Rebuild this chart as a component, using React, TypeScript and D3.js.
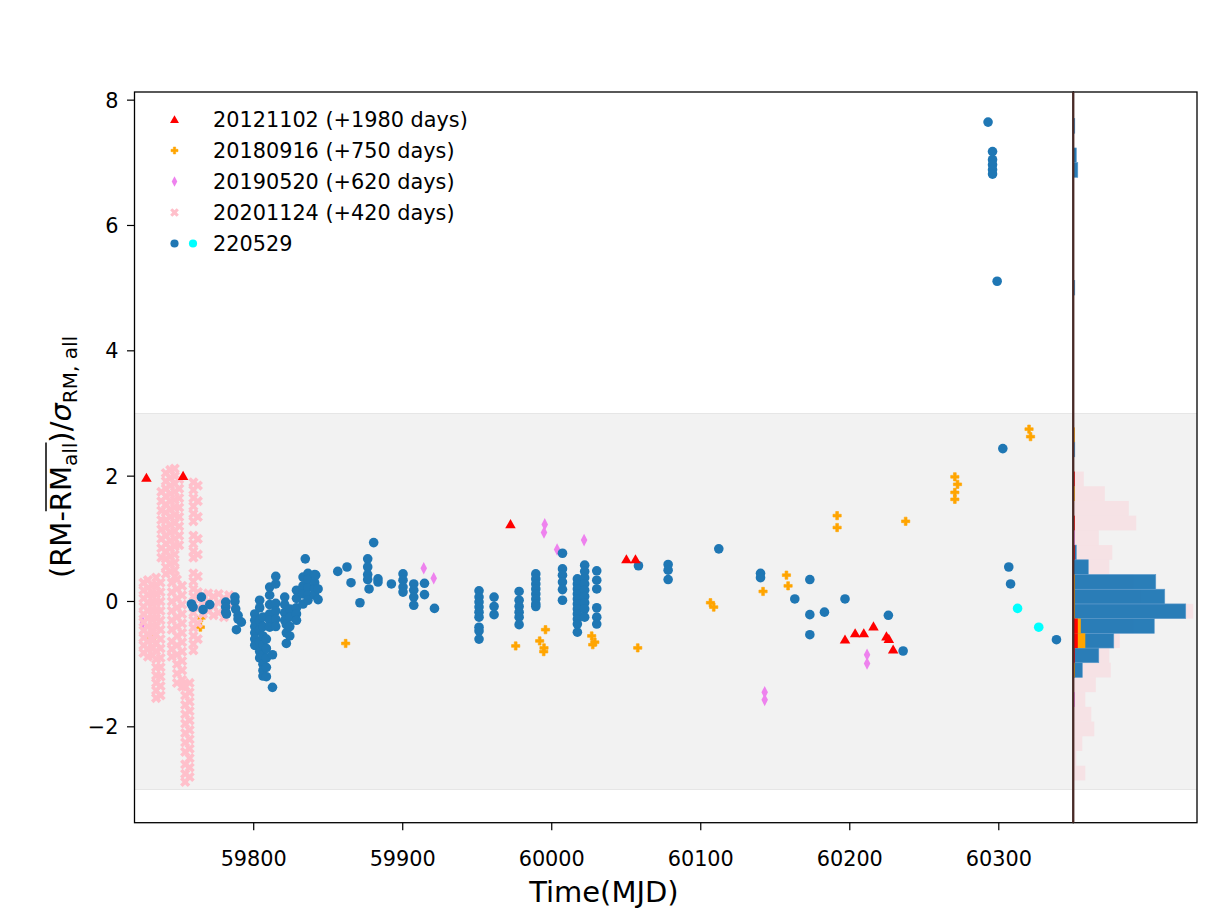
import React, { useLayoutEffect, useRef, useState } from 'react';
import * as d3 from 'd3';

// ---- scatter data: [MJD, values observed at that MJD] ----
const frb20121102: [number, number[]][] = [
  [59728.0, [1.97]], [59752.6, [2.0]], [59972.3, [1.23]], [60050.1, [0.67]], [60056.2, [0.67]],
  [60196.8, [-0.61]], [60203.6, [-0.51]], [60209.4, [-0.51]], [60215.9, [-0.4]],
  [60224.6, [-0.56]], [60226.2, [-0.6]], [60229.1, [-0.77]],
];

const frb20180916: [number, number[]][] = [
  [59731.7, [-0.58]], [59764.9, [-0.26]], [59764.2, [-0.41]], [59861.7, [-0.67]],
  [59975.8, [-0.71]], [59995.8, [-0.45]], [59991.9, [-0.63]], [59994.8, [-0.74]], [59994.6, [-0.8]],
  [60026.8, [-0.55]], [60028.9, [-0.65]], [60027.5, [-0.69]], [60057.7, [-0.74]],
  [60106.5, [-0.02]], [60108.7, [-0.09]], [60141.8, [0.16]], [60157.5, [0.42]], [60158.6, [0.25]],
  [60191.5, [1.37, 1.18]], [60237.5, [1.28]], [60270.5, [1.99, 1.74, 1.63]], [60272.3, [1.87]],
  [60320.3, [2.75]], [60321.3, [2.63]],
];

const frb20190520: [number, number[]][] = [
  [59725.7, [-0.34]], [59914.1, [0.53]], [59920.8, [0.37]], [59995.3, [1.23]], [59994.8, [1.1]],
  [60003.6, [0.83]], [60021.7, [0.98]], [60142.9, [-1.45, -1.57]], [60211.6, [-0.85, -0.99]],
];

const frb20201124: [number, number[]][] = [
  [59726.0, [0.3, 0.18, 0.05, -0.08, -0.2, -0.33, -0.46, -0.58, -0.7, -0.82]],
  [59729.0, [0.34, 0.22, 0.1, -0.02, -0.15, -0.27, -0.4, -0.52, -0.64, -0.76, -0.88]],
  [59732.0, [0.26, 0.12, -0.01, -0.13, -0.26, -0.38, -0.5, -0.62, -0.75, -0.86]],
  [59734.5, [0.38, 0.25, 0.12, -0.01, -0.14, -0.27, -0.4, -0.53, -0.66, -0.79, -0.92, -1.05, -1.18, -1.3, -1.42, -1.54]],
  [59737.5, [0.3, 0.15, 0.0, -0.15, -0.3, -0.45, -0.6, -0.75, -0.9, -1.05, -1.2, -1.35, -1.5]],
  [59738.0, [1.75, 1.6, 1.45, 1.3, 1.15, 1.0, 0.85, 0.7]],
  [59741.0, [2.05, 1.92, 1.8, 1.68, 1.55, 1.42, 1.3, 1.18, 1.05, 0.92, 0.8, 0.68, 0.55, 0.44]],
  [59744.0, [2.1, 1.97, 1.85, 1.72, 1.6, 1.47, 1.35, 1.22, 1.1, 0.97, 0.85, 0.72, 0.6, 0.48]],
  [59747.0, [2.12, 2.0, 1.88, 1.75, 1.62, 1.5, 1.38, 1.25, 1.12, 1.0, 0.88, 0.75, 0.62, 0.5, 0.4]],
  [59750.0, [1.95, 1.8, 1.65, 1.5, 1.35, 1.2, 1.05, 0.9]],
  [59745.0, [0.3, 0.15, 0.0, -0.15, -0.3, -0.45, -0.64, -0.76, -0.88]],
  [59748.5, [0.35, 0.2, 0.05, -0.1, -0.25, -0.4, -0.55, -0.7, -0.85, -1.0, -1.15, -1.3]],
  [59752.0, [0.25, 0.1, -0.05, -0.2, -0.35, -0.5, -0.65, -0.8, -0.95, -1.1, -1.25, -1.36]],
  [59754.0, [-1.35, -1.5, -1.65, -1.8, -1.95, -2.1, -2.25, -2.4, -2.6, -2.75, -2.88]],
  [59757.0, [-1.3, -1.45, -1.6, -1.75, -1.9, -2.05, -2.2, -2.35, -2.5, -2.65, -2.8]],
  [59759.5, [1.9, 1.78, 1.65, 1.52, 1.4, 1.28, 1.05, 0.92, 0.8, 0.7, 0.45, 0.32, 0.2, 0.08, -0.05, -0.18, -0.3, -0.42, -0.55, -0.68, -0.78]],
  [59762.5, [1.85, 1.6, 1.35, 1.0, 0.75, 0.4, 0.15, -0.1, -0.35, -0.6]],
  [59766.0, [0.1, -0.05, -0.2]],
  [59769.5, [0.13, 0.0, -0.15]],
  [59773.0, [0.08, -0.08, -0.22]],
  [59776.5, [0.12, -0.02, -0.18]],
  [59780.0, [0.05, -0.1, -0.25]],
  [59783.5, [0.1, -0.05]],
];

const frb220529: [number, number[]][] = [
  [59758.2, [-0.04]], [59759.3, [-0.09]], [59764.9, [0.07]], [59766.0, [-0.13]], [59770.5, [-0.05]],
  [59781.2, [-0.01, -0.09, -0.17]], [59781.7, [-0.2]],
  [59787.4, [0.07, 0.0]], [59787.9, [-0.12]], [59789.5, [-0.22, -0.28]], [59791.7, [-0.33]], [59788.4, [-0.45]],
  [59800.7, [-0.2, -0.3, -0.4, -0.5, -0.6, -0.7]],
  [59804.0, [0.02, -0.1, -0.3, -0.45, -0.65, -0.8, -0.9]],
  [59806.2, [-0.25, -0.4, -0.55, -0.7, -0.85, -1.0, -1.1, -1.19]],
  [59808.5, [-0.6, -0.75, -0.9, -1.05, -1.2]],
  [59812.6, [-0.85, -1.37]],
  [59810.7, [0.23, 0.1, -0.05, -0.2, -0.3, -0.41]],
  [59814.8, [0.4, 0.28, -0.03, -0.15, -0.28, -0.4]],
  [59820.8, [0.07, -0.05, -0.18, -0.3]],
  [59821.9, [-0.37, -0.5, -0.67]],
  [59824.2, [-0.12, -0.25, -0.4, -0.55]],
  [59828.7, [0.18, 0.05, -0.1, -0.2, -0.3]],
  [59833.1, [0.39, 0.25, 0.12, -0.04]],
  [59834.6, [0.68]],
  [59836.4, [0.45, 0.35, 0.22, 0.1, 0.02]],
  [59840.9, [0.43, 0.3, 0.2, 0.1]],
  [59843.2, [0.2, 0.03]],
  [59841.6, [0.42]],
  [59856.4, [0.48]], [59862.6, [0.55]], [59865.3, [0.3]], [59871.3, [-0.02]], [59880.5, [0.94]],
  [59876.5, [0.68, 0.55, 0.43, 0.35]], [59877.4, [0.2]], [59883.4, [0.36, 0.31]], [59892.4, [0.28]],
  [59900.2, [0.44, 0.34, 0.23, 0.15]], [59907.4, [0.28, 0.18, 0.07, -0.06]], [59914.6, [0.29, 0.11]],
  [59921.3, [-0.11]],
  [59951.2, [0.17, 0.07, -0.01, -0.09, -0.17, -0.25, -0.41, -0.47, -0.6]],
  [59961.3, [0.07, -0.08, -0.21]],
  [59978.1, [0.16, 0.02, -0.08, -0.17, -0.25, -0.37]],
  [59989.3, [0.44, 0.36, 0.28, 0.2, 0.12, 0.04, -0.04, -0.08]],
  [60007.2, [0.77, 0.52, 0.42, 0.31, 0.19, 0.02]],
  [60017.2, [0.36, 0.28, 0.2, 0.12, 0.04, -0.04, -0.12, -0.2, -0.28, -0.36, -0.49]],
  [60022.1, [0.58, 0.48, 0.38, 0.28, 0.18, 0.08, -0.02, -0.12, -0.25]],
  [60030.2, [0.49, 0.34, 0.2, -0.1, -0.25, -0.36]],
  [60058.2, [0.57]], [60078.1, [0.59, 0.5, 0.35]], [60112.1, [0.84]], [60140.1, [0.45, 0.38]],
  [60163.1, [0.04]], [60173.2, [0.35, -0.21, -0.53]], [60183.0, [-0.17]], [60196.8, [0.04]],
  [60225.9, [-0.22]], [60235.8, [-0.79]],
  [60292.8, [7.65]], [60295.8, [7.18, 7.05, 6.97, 6.89, 6.82]], [60298.9, [5.11]],
  [60302.7, [2.44]], [60306.7, [0.55]], [60307.9, [0.28]], [60338.7, [-0.61]],
];

const frb220529Late: [number, number[]][] = [
  [60312.6, [-0.11]], [60326.8, [-0.41]],
];

// ---- side histograms: [bin index, count], bins start at binStart, width binWidth ----
const binStart = -2.855;
const binWidth = 0.2347;
const histPink: [number, number][] = [
  [0, 8], [1, 2], [2, 6], [3, 14], [4, 12], [5, 8], [6, 15], [7, 25], [8, 24], [9, 31], [10, 40],
  [11, 80], [12, 45], [13, 40], [14, 24], [15, 26], [16, 17], [17, 42], [18, 37], [19, 21], [20, 7],
];
const histBlue: [number, number][] = [
  [7, 6], [8, 17], [9, 27], [10, 54], [11, 75], [12, 61], [13, 55], [14, 10], [15, 2],
  [22, 1], [33, 1], [41, 3], [42, 2], [44, 1],
];
const histViolet: [number, number][] = [[5, 1], [16, 1]];
const histOrange: [number, number][] = [
  [7, 1], [9, 8], [10, 5], [11, 1], [12, 1], [13, 1], [19, 1], [23, 1],
];
const histRed: [number, number][] = [[8, 1], [9, 3], [10, 3], [15, 1], [17, 1], [20, 1]];

const yTicks = [-2, 0, 2, 4, 6, 8];
const xTicks = [59800, 59900, 60000, 60100, 60200, 60300];

const legendItems = [
  { label: '20121102 (+1980 days)', kind: 'tri', color: 'red' },
  { label: '20180916 (+750 days)', kind: 'plus', color: 'orange' },
  { label: '20190520 (+620 days)', kind: 'dia', color: 'violet' },
  { label: '20201124 (+420 days)', kind: 'x', color: 'pink' },
  { label: '220529', kind: 'dot', color: '#1f77b4' },
];

const FONT = "'DejaVu Sans', sans-serif";

const flat = (groups: [number, number[]][]) =>
  groups.flatMap(([t, vs]) => vs.map((v) => [t, v] as [number, number]));

const triPath = d3.symbol(d3.symbolTriangle, 48)()!;
const plusPath = d3.symbol(d3.symbolCross, 38)()!;
const diaPath = d3.symbol(d3.symbolDiamond, 46)()!;
const xPath = d3.symbol(d3.symbolCross, 66)()!;

function Marker({ kind, color, x, y, k = 1 }: { kind: string; color: string; x: number; y: number; k?: number }) {
  if (kind === 'tri') return <path d={triPath} transform={`translate(${x},${y + 0.8}) scale(${k})`} fill={color} />;
  if (kind === 'plus') return <path d={plusPath} transform={`translate(${x},${y}) scale(${k})`} fill={color} stroke={color} strokeWidth={0.6} />;
  if (kind === 'dia') return <path d={diaPath} transform={`translate(${x},${y}) scale(${0.9 * k},${k})`} fill={color} />;
  if (kind === 'x') return <path d={xPath} transform={`translate(${x},${y}) rotate(45) scale(${k})`} fill={color} />;
  return <circle cx={x} cy={y} r={4.8 * k} fill={color} />;
}

export default function App() {
  const left = 134.5, mainRight = 1073.3, right = 1197, top = 92, bottom = 822.7;
  const x = d3.scaleLinear().domain([59720, 60350]).range([left, mainRight]);
  const y = d3.scaleLinear().domain([-3.53, 8.13]).range([bottom, top]);
  const h = d3.scaleLinear().domain([0, 82.5]).range([mainRight, right]);

  const labelRef = useRef<SVGTextElement>(null);
  const [over, setOver] = useState<{ x1: number; x2: number } | null>(null);
  useLayoutEffect(() => {
    const el = labelRef.current;
    if (!el) return;
    try {
      const s = el.getStartPositionOfChar(4);
      const e = el.getEndPositionOfChar(8);
      setOver({ x1: s.x, x2: e.x });
    } catch (err) {
      /* ignore */
    }
  }, []);

  const series = [
    { data: flat(frb20190520), kind: 'dia', color: 'violet' },
    { data: flat(frb20180916), kind: 'plus', color: 'orange' },
    { data: flat(frb20201124), kind: 'x', color: 'pink' },
    { data: flat(frb220529), kind: 'dot', color: '#1f77b4' },
    { data: flat(frb220529Late), kind: 'dot', color: 'cyan' },
    { data: flat(frb20121102), kind: 'tri', color: 'red' },
  ];

  const hists = [
    { data: histPink, color: 'pink', opacity: 0.32, stroke: 'none' },
    { data: histBlue, color: '#1f77b4', opacity: 0.95, stroke: '#5d9acb' },
    { data: histViolet, color: 'violet', opacity: 1, stroke: 'none' },
    { data: histOrange, color: 'orange', opacity: 1, stroke: 'none' },
    { data: histRed, color: 'red', opacity: 1, stroke: 'none' },
  ];

  return (
    <svg
      width={1221}
      height={915}
      style={{ position: 'absolute', left: 0, top: 0, background: '#fff' }}
      fontFamily={FONT}
    >
      <defs>
        <clipPath id="mainClip">
          <rect x={left} y={top} width={mainRight - left} height={bottom - top} />
        </clipPath>
        <clipPath id="histClip">
          <rect x={mainRight} y={top} width={right - mainRight} height={bottom - top} />
        </clipPath>
      </defs>

      {/* +-3 sigma band */}
      <rect x={left} y={y(3)} width={right - left} height={y(-3) - y(3)} fill="#f2f2f2" />
      <line x1={left} x2={right} y1={y(3)} y2={y(3)} stroke="#e6e6e6" strokeWidth={1.2} />
      <line x1={left} x2={right} y1={y(-3)} y2={y(-3)} stroke="#e6e6e6" strokeWidth={1.2} />

      <g clipPath="url(#mainClip)">
        {series.map((s, i) => (
          <g key={i}>
            {s.data.map(([t, v], j) => (
              <Marker key={j} kind={s.kind} color={s.color} x={x(t)} y={y(v)} />
            ))}
          </g>
        ))}
      </g>

      <g clipPath="url(#histClip)">
        {hists.map((hs, i) => (
          <g key={i}>
            {hs.data.map(([b, c]) => {
              const y0 = binStart + b * binWidth;
              return (
                <rect
                  key={b}
                  x={h(0)}
                  y={y(y0 + binWidth)}
                  width={h(c) - h(0)}
                  height={y(y0) - y(y0 + binWidth)}
                  fill={hs.color}
                  fillOpacity={hs.opacity}
                  stroke={hs.stroke}
                  strokeWidth={0.6}
                />
              );
            })}
          </g>
        ))}
      </g>

      {/* axes frames */}
      <rect x={left} y={top} width={mainRight - left} height={bottom - top} fill="none" stroke="#000" strokeWidth={1.3} />
      <rect x={mainRight} y={top} width={right - mainRight} height={bottom - top} fill="none" stroke="#000" strokeWidth={1.3} />
      <line x1={mainRight} x2={mainRight} y1={top} y2={bottom} stroke="#4a2a26" strokeWidth={2.2} />

      {/* y ticks */}
      {yTicks.map((t) => (
        <g key={t}>
          <line x1={left - 7.5} x2={left} y1={y(t)} y2={y(t)} stroke="#000" strokeWidth={1.2} />
          <text x={left - 16} y={y(t) + 7.5} textAnchor="end" fontSize={20.8}>
            {t < 0 ? `\u2212${Math.abs(t)}` : t}
          </text>
        </g>
      ))}

      {/* x ticks */}
      {xTicks.map((t) => (
        <g key={t}>
          <line x1={x(t)} x2={x(t)} y1={bottom} y2={bottom + 7.5} stroke="#000" strokeWidth={1.2} />
          <text x={x(t)} y={866} textAnchor="middle" fontSize={20.8}>
            {t}
          </text>
        </g>
      ))}

      <text x={(left + mainRight) / 2} y={902} textAnchor="middle" fontSize={29}>
        Time(MJD)
      </text>

      {/* y label */}
      <g transform="translate(71,457) rotate(-90)">
        <text ref={labelRef} x={0} y={0} textAnchor="middle" fontSize={29}>
          <tspan>(RM-RM</tspan>
          <tspan fontSize={20} dy={6}>all</tspan>
          <tspan dy={-6}>)/</tspan>
          <tspan fontStyle="italic">σ</tspan>
          <tspan fontSize={20} dy={6}>RM, all</tspan>
        </text>
        {over && (
          <line x1={over.x1} x2={over.x2} y1={-25} y2={-25} stroke="#000" strokeWidth={1.5} />
        )}
      </g>

      {/* legend */}
      {legendItems.map((it, i) => {
        const ly = 119.5 + i * 31;
        return (
          <g key={it.label}>
            <Marker kind={it.kind} color={it.color} x={174.5} y={ly} k={0.85} />
            {it.kind === 'dot' && <Marker kind="dot" color="cyan" x={193} y={ly} k={0.85} />}
            <text x={213} y={ly + 7.5} fontSize={20.8}>
              {it.label}
            </text>
          </g>
        );
      })}
    </svg>
  );
}
